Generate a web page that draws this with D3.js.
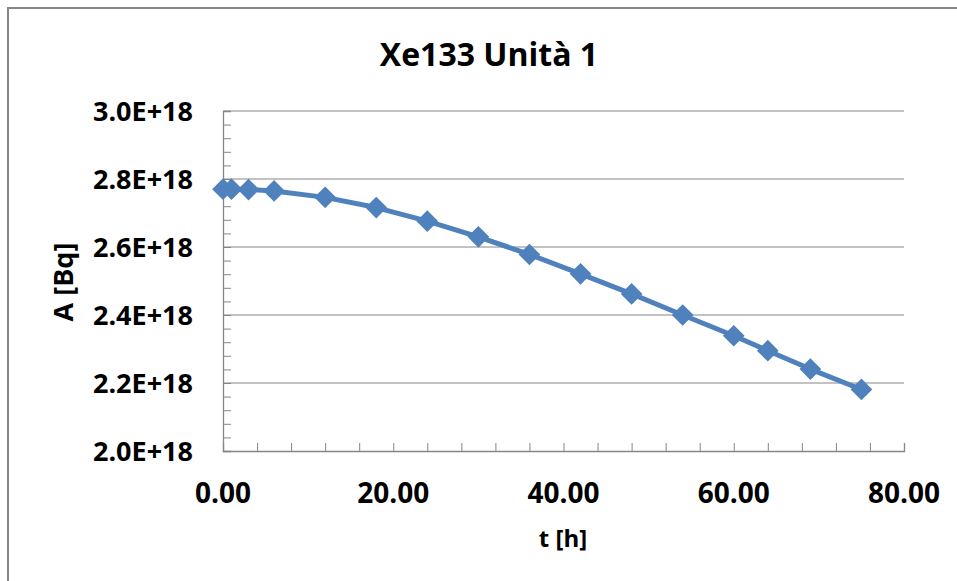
<!DOCTYPE html>
<html>
<head>
    <meta charset="utf-8">
    <title>Xe133 Unità 1</title>
    <script src="https://d3js.org/d3.v7.min.js"></script>
    <style>
        body { margin: 0; background: #fff; }
        text { font-family: "Open Sans", sans-serif; font-weight: bold; fill: #000; }
    </style>
</head>
<body>
    <script>
        // data
        var hours = [0, 1, 3, 6, 12, 18, 24, 30, 36, 42, 48, 54, 60, 64, 69, 75];
        var activity = [2.770e18, 2.770e18, 2.769e18, 2.765e18, 2.746e18, 2.716e18, 2.676e18, 2.630e18,
                        2.578e18, 2.521e18, 2.462e18, 2.400e18, 2.339e18, 2.295e18, 2.241e18, 2.181e18];
        var xTicks = [0, 20, 40, 60, 80];
        var yTicks = [2.0e18, 2.2e18, 2.4e18, 2.6e18, 2.8e18, 3.0e18];

        var data = hours.map(function(h, i) { return { t: h, a: activity[i] }; });

        var W = 957, H = 581;
        var margin = { top: 111, right: 53, bottom: 130, left: 223 };
        var width = W - margin.left - margin.right;
        var height = H - margin.top - margin.bottom;

        var root = d3.select("body")
            .append("svg")
            .attr("width", W)
            .attr("height", H);

        // chart area border (runs off the right and bottom)
        root.append("rect")
            .attr("x", 8)
            .attr("y", 8)
            .attr("width", W + 20)
            .attr("height", H + 20)
            .attr("fill", "none")
            .attr("stroke", "#868686")
            .attr("stroke-width", 2);

        var svg = root.append("g")
            .attr("transform", "translate(" + margin.left + ", " + margin.top + ")");

        var xScale = d3.scaleLinear().domain([0, 80]).range([0, width]);
        var yScale = d3.scaleLinear().domain([2.0e18, 3.0e18]).range([height, 0]);

        // horizontal gridlines
        svg.append("g")
            .selectAll("line")
            .data(yTicks.slice(1))
            .join("line")
            .attr("x1", 0)
            .attr("x2", width)
            .attr("y1", function(d) { return yScale(d); })
            .attr("y2", function(d) { return yScale(d); })
            .attr("stroke", "#868686")
            .attr("stroke-width", 1);

        // minor ticks, inside
        var xMinor = d3.range(0, 80.01, 4);
        var yMinor = d3.range(0, 26).map(function(i) { return 2.0e18 + i * 0.04e18; });

        var xAxis = d3.axisTop(xScale).tickValues(xMinor).tickSize(8).tickFormat("");
        var yAxis = d3.axisRight(yScale).tickValues(yMinor).tickSize(8).tickFormat("");

        var gx = svg.append("g")
            .attr("transform", "translate(0, " + height + ")")
            .call(xAxis);
        var gy = svg.append("g").call(yAxis);

        [gx, gy].forEach(function(g) {
            g.select(".domain").attr("stroke", "#868686").attr("stroke-width", 1.3);
            g.selectAll(".tick line").attr("stroke", "#868686").attr("stroke-width", 1);
        });

        // tick labels
        svg.append("g")
            .selectAll("text")
            .data(yTicks)
            .join("text")
            .attr("x", -30)
            .attr("y", function(d) { return yScale(d); })
            .attr("dy", "0.36em")
            .attr("text-anchor", "end")
            .style("font-size", "27px")
            .text(function(d) { return (d / 1e18).toFixed(1) + "E+18"; });

        svg.append("g")
            .selectAll("text")
            .data(xTicks)
            .join("text")
            .attr("x", function(d) { return xScale(d); })
            .attr("y", height + 52)
            .attr("text-anchor", "middle")
            .style("font-size", "28px")
            .text(function(d) { return d.toFixed(2); });

        // line + diamond markers
        var line = d3.line()
            .x(function(d) { return xScale(d.t); })
            .y(function(d) { return yScale(d.a); });

        svg.append("path")
            .datum(data)
            .attr("d", line)
            .attr("fill", "none")
            .attr("stroke", "#4F81BD")
            .attr("stroke-width", 5)
            .attr("stroke-linejoin", "round");

        svg.selectAll(".marker")
            .data(data)
            .join("path")
            .attr("class", "marker")
            .attr("d", d3.symbol().type(d3.symbolDiamond2).size(300))
            .attr("transform", function(d) { return "translate(" + xScale(d.t) + "," + yScale(d.a) + ")"; })
            .attr("fill", "#4F81BD");

        // titles
        root.append("text")
            .attr("x", 489)
            .attr("y", 66)
            .attr("text-anchor", "middle")
            .style("font-size", "32px")
            .text("Xe133 Unità 1");

        root.append("text")
            .attr("x", 563)
            .attr("y", 547)
            .attr("text-anchor", "middle")
            .style("font-size", "24px")
            .text("t [h]");

        root.append("text")
            .attr("transform", "translate(73, 282) rotate(-90)")
            .attr("text-anchor", "middle")
            .style("font-size", "27px")
            .text("A [Bq]");
    </script>
</body>
</html>
